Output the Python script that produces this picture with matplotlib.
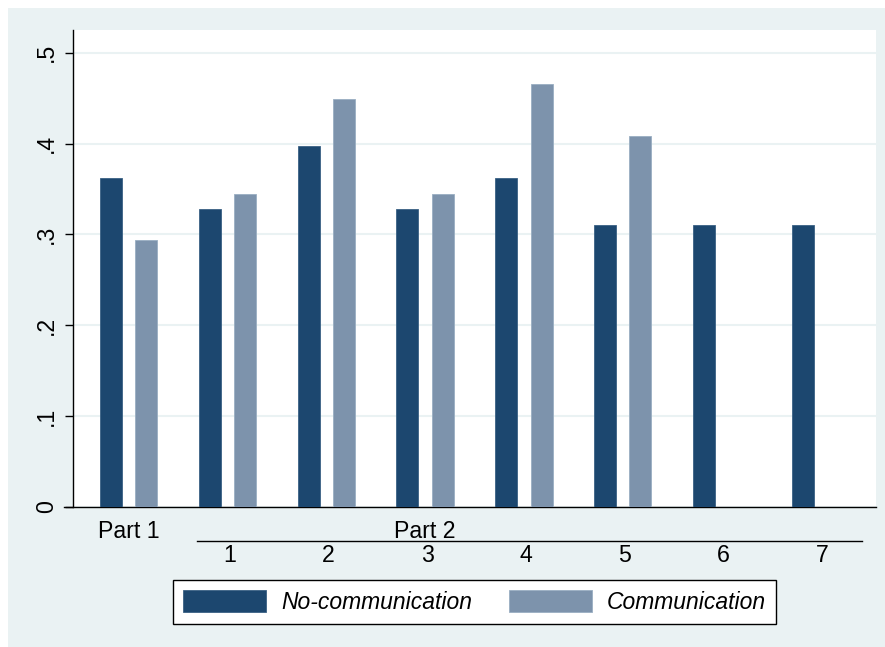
import numpy as np
import matplotlib
matplotlib.use("Agg")
import matplotlib.pyplot as plt
from matplotlib.patches import Rectangle
from matplotlib.lines import Line2D

# Share of choices by treatment, Part 1 and the seven rounds of Part 2
groups = ["Part 1", "1", "2", "3", "4", "5", "6", "7"]
no_communication = [0.362, 0.328, 0.397, 0.328, 0.362, 0.310, 0.310, 0.310]
communication = [0.294, 0.345, 0.449, 0.345, 0.466, 0.408, np.nan, np.nan]
series_names = ["No-communication", "Communication"]
y_ticks = [0, 0.1, 0.2, 0.3, 0.4, 0.5]
y_tick_labels = ["0", ".1", ".2", ".3", ".4", ".5"]

DARK = "#1c476f"
LIGHT = "#7d93ac"
BG = "#eaf2f3"
FS = 16.7

plt.rcParams["font.family"] = ["Liberation Sans", "DejaVu Sans"]

W, H = 885, 647
fig = plt.figure(figsize=(W / 100, H / 100), dpi=100, facecolor="white")
# shaded graph region (white strip on top and left)
fig.patches.append(Rectangle((8 / W, 0), 1 - 8 / W, (H - 8) / H,
                             transform=fig.transFigure, facecolor=BG,
                             edgecolor="none", zorder=-10))

ax = fig.add_axes([73 / W, (H - 507) / H, (876 - 73) / W, (507 - 30) / H])
ax.set_facecolor("white")

x = np.arange(len(groups))
off, bw = 0.179, 0.223
ax.bar(x - off, no_communication, width=bw, color=DARK,
       edgecolor="#3a6184", linewidth=0.6, zorder=3, label=series_names[0])
ax.bar(x + off, communication, width=bw, color=LIGHT,
       edgecolor="#9aaec2", linewidth=0.6, zorder=3, label=series_names[1])

ax.set_xlim(-0.5625, len(groups) - 1 + 0.5625)
ax.set_ylim(0, 0.525)

ax.set_yticks(y_ticks)
ax.set_yticklabels(y_tick_labels, rotation=90, va="center", fontsize=FS)
ax.tick_params(axis="y", length=5.8, width=1.0, pad=5, color="black")
ax.set_xticks([])
ax.yaxis.grid(True, color=BG, linewidth=1.5, zorder=0)
ax.set_axisbelow(True)

for s in ["top", "right"]:
    ax.spines[s].set_visible(False)
for s in ["left", "bottom"]:
    ax.spines[s].set_linewidth(1.0)
    ax.spines[s].set_color("black")
ax.spines["bottom"].set_bounds(-0.5625 - 9 / 98.7, len(groups) - 1 + 0.5625)
ax.spines["bottom"].set_clip_on(False)

# category labels under the axis
trans = ax.get_xaxis_transform()
ax_h = 507 - 30
ax.text(x[0], -31.5 / ax_h, groups[0], transform=trans, ha="center",
        va="baseline", fontsize=FS)
ax.text(x[3], -31.5 / ax_h, "Part 2", transform=trans, ha="center",
        va="baseline", fontsize=FS)
ax.add_line(Line2D([x[1] - 0.306, x[-1] + 0.42], [-33.5 / ax_h] * 2,
                   transform=trans, color="black", linewidth=1.0,
                   clip_on=False))
for xi, g in zip(x[1:], groups[1:]):
    ax.text(xi + 0.02, -55.5 / ax_h, g, transform=trans, ha="center",
            va="baseline", fontsize=FS)

leg = ax.legend(loc="upper center", bbox_to_anchor=(0.5, -73 / ax_h),
                ncol=2, frameon=True, fancybox=False, borderaxespad=0,
                handlelength=3.62, handleheight=1.05, handletextpad=0.64,
                columnspacing=1.6, borderpad=0.45, framealpha=1.0,
                prop={"size": FS - 0.2, "style": "italic"})
leg.get_frame().set_edgecolor("black")
leg.get_frame().set_facecolor("white")
leg.get_frame().set_linewidth(1.0)

fig.savefig("out.png", dpi=100, facecolor=fig.get_facecolor())
